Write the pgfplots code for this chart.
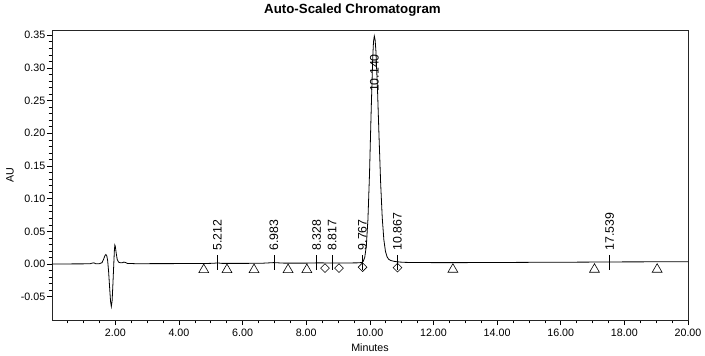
\documentclass[border=0pt]{standalone}
\usepackage{pgfplots}
\pgfplotsset{compat=1.18}
\usepackage{pgfplotstable}
\usepackage{fontspec}
\setmainfont{Liberation Sans}

\pgfplotstableread{
x y
0.01 0.0000
0.50 0.0002
1.00 0.0003
1.20 0.0004
1.28 0.0015
1.33 0.0018
1.38 0.0005
1.50 0.0006
1.58 0.0020
1.63 0.0070
1.67 0.0125
1.70 0.0145
1.73 0.0130
1.76 0.0050
1.79 -0.0120
1.82 -0.0350
1.85 -0.0570
1.875 -0.0650
1.90 -0.0560
1.925 -0.0300
1.95 -0.0020
1.97 0.0200
1.985 0.0290
2.00 0.0270
2.03 0.0160
2.06 0.0070
2.10 0.0030
2.16 0.0020
2.22 0.0020
2.27 0.0030
2.31 0.0025
2.38 0.0010
2.60 0.0006
3.00 0.0006
4.00 0.0007
4.80 0.0008
5.10 0.0012
5.21 0.0018
5.35 0.0010
6.00 0.0010
6.60 0.0012
6.98 0.0022
7.30 0.0014
8.00 0.0014
8.33 0.0018
8.82 0.0017
9.30 0.0017
9.60 0.0018
9.74 0.0023
9.79 0.0040
9.84 0.0102
9.89 0.0280
9.94 0.0683
9.99 0.1387
10.04 0.2313
10.09 0.3148
10.115 0.3400
10.14 0.3488
10.165 0.3431
10.19 0.3265
10.24 0.2681
10.29 0.1934
10.34 0.1234
10.39 0.0705
10.44 0.0374
10.49 0.0196
10.54 0.0112
10.59 0.0074
10.65 0.0056
10.72 0.0046
10.80 0.0038
10.87 0.0035
10.95 0.0030
11.10 0.0026
11.40 0.0023
12.00 0.0022
13.00 0.0022
14.00 0.0024
15.00 0.0026
16.00 0.0028
17.00 0.0030
17.54 0.0032
18.00 0.0033
19.00 0.0034
20.00 0.0035
}\chrom

\pgfplotstableread{
x y
4.78 -0.0087
5.51 -0.0087
6.36 -0.0087
7.43 -0.0087
8.02 -0.0087
12.61 -0.0082
17.06 -0.0082
19.03 -0.0082
}\tri

\pgfplotstableread{
x y
8.59 -0.0063
9.03 -0.0063
9.77 -0.0048
10.87 -0.0055
}\dia

\pgfplotstableread{
x y
5.212 0.0020
6.983 0.0022
8.328 0.0020
8.817 0.0020
9.767 0.0020
10.867 0.0020
17.539 0.0025
}\pticks

\pgfplotstableread{
x y lab
5.212 0.0200 5.212
6.983 0.0200 6.983
8.328 0.0200 8.328
8.817 0.0200 8.817
9.767 0.0210 9.767
10.140 0.2630 10.140
10.867 0.0210 10.867
17.539 0.0210 17.539
}\plabels

\begin{document}
\begin{tikzpicture}
\begin{axis}[
  name=ax,
  scale only axis,
  width=636pt, height=290pt,
  xmin=0.01, xmax=20,
  ymin=-0.0856, ymax=0.358,
  xtick={2,4,6,8,10,12,14,16,18,20},
  minor xtick={0.5,1,1.5,2.5,3,3.5,4.5,5,5.5,6.5,7,7.5,8.5,9,9.5,10.5,11,11.5,12.5,13,13.5,14.5,15,15.5,16.5,17,17.5,18.5,19,19.5},
  ytick={-0.05,0,0.05,0.1,0.15,0.2,0.25,0.3,0.35},
  minor y tick num=4,
  tick align=outside,
  tick pos=left,
  major tick length=5pt,
  minor tick length=3.3pt,
  tick style={black, line width=0.6pt},
  axis line style={black!85, line width=0.8pt},
  /pgf/number format/assume math mode=true,
  xticklabel style={/pgf/number format/fixed, /pgf/number format/fixed zerofill, /pgf/number format/precision=2, font=\fontsize{10.7}{12}\selectfont},
  yticklabel style={/pgf/number format/fixed, /pgf/number format/fixed zerofill, /pgf/number format/precision=2, font=\fontsize{10.7}{12}\selectfont, /tikz/inner sep=1.5pt},
  scaled y ticks=false,
  xlabel={Minutes},
  ylabel={AU},
  xlabel style={at={(axis description cs:0.5,-0.1069)}, anchor=base, font=\fontsize{10.7}{12}\selectfont},
  ylabel style={at={(axis description cs:-0.066,0.5)}, anchor=center, font=\fontsize{10.7}{12}\selectfont},
  title={Auto-Scaled Chromatogram},
  title style={at={(axis description cs:0.4725,1.0345)}, anchor=base, font=\bfseries\fontsize{13.3}{15}\selectfont},
]
\addplot[black, line width=0.8pt] table[x=x, y=y] {\chrom};
\addplot[only marks, mark=triangle, mark size=5.7pt, mark options={black, line width=0.6pt}] table[x=x, y=y] {\tri};
\addplot[only marks, mark=square, mark size=3.1pt, mark options={rotate=45, black, line width=0.6pt}] table[x=x, y=y] {\dia};
\addplot[only marks, mark=|, mark size=7.5pt, mark options={black, line width=0.6pt}] table[x=x, y=y] {\pticks};
\addplot[draw=none, mark=none, point meta=explicit symbolic, nodes near coords,
  nodes near coords style={rotate=90, anchor=west, inner sep=0pt, font=\fontsize{12.3}{14}\selectfont, text=black}]
  table[x=x, y=y, meta=lab] {\plabels};
\end{axis}
\pgfresetboundingbox
\path[use as bounding box] ([xshift=-52pt,yshift=-35pt]ax.south west) rectangle ([xshift=17pt,yshift=30pt]ax.north east);
\end{tikzpicture}
\end{document}
